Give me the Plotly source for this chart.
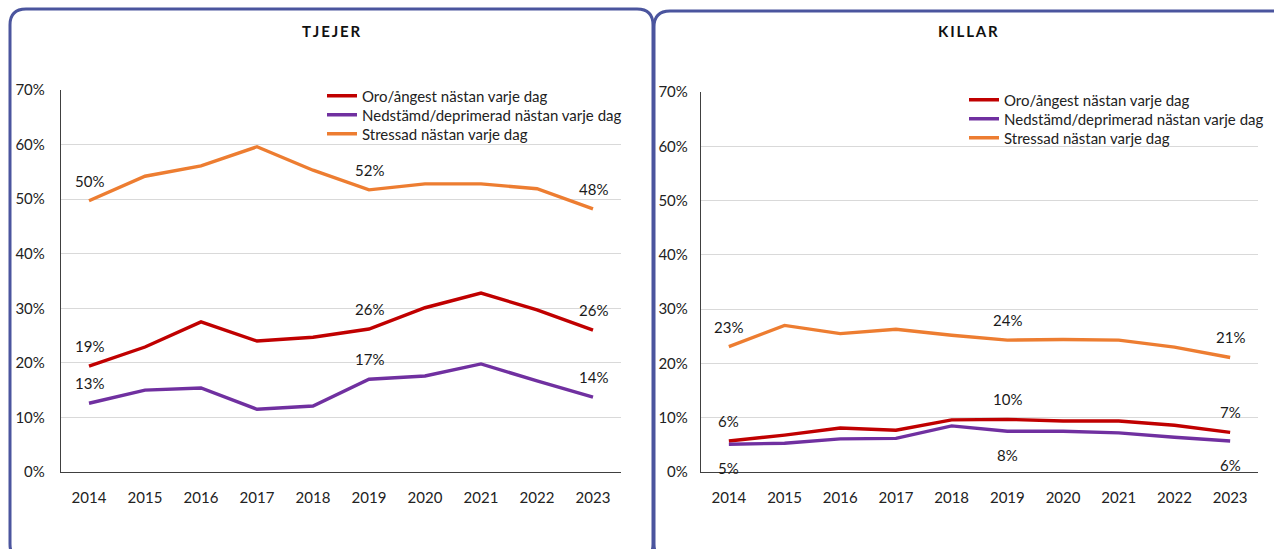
import plotly.graph_objects as go

years = ["2014", "2015", "2016", "2017", "2018", "2019", "2020", "2021", "2022", "2023"]

# TJEJER (girls)
g_oro = [19.4, 22.9, 27.5, 24.0, 24.7, 26.2, 30.1, 32.8, 29.7, 26.0]
g_ned = [12.6, 15.0, 15.4, 11.5, 12.1, 17.0, 17.6, 19.8, 16.7, 13.7]
g_str = [49.7, 54.2, 56.1, 59.6, 55.3, 51.7, 52.8, 52.8, 51.9, 48.2]

# KILLAR (boys)
b_oro = [5.7, 6.8, 8.1, 7.7, 9.6, 9.7, 9.4, 9.4, 8.6, 7.3]
b_ned = [5.1, 5.3, 6.1, 6.2, 8.5, 7.5, 7.5, 7.2, 6.4, 5.7]
b_str = [23.1, 27.0, 25.5, 26.3, 25.2, 24.3, 24.4, 24.3, 23.0, 21.1]

series_names = ["Oro/ångest nästan varje dag",
                "Nedstämd/deprimerad nästan varje dag",
                "Stressad nästan varje dag"]
colors = ["#C00000", "#7030A0", "#ED7D31"]
label_idx = [0, 5, 9]

FONT = "Lato, 'Open Sans', sans-serif"
W, H = 1274, 549


def px(x):
    return x / W


def py(y):
    return 1 - y / H


fig = go.Figure()

panels = [
    ("x", "y", ["legend", "legend2", "legend3"], [g_oro, g_ned, g_str], [1, 1, 1]),
    ("x2", "y2", ["legend4", "legend5", "legend6"], [b_oro, b_ned, b_str], [1, -1, 1]),
]

annotations = []
for xa, ya, legs, data, dirs in panels:
    for name, col, vals, d, leg in zip(series_names, colors, data, dirs, legs):
        yv = [v / 100 for v in vals]
        fig.add_trace(go.Scatter(
            x=years, y=yv, name=name, mode="lines",
            line=dict(color=col, width=3.4),
            xaxis=xa, yaxis=ya, legend=leg, hoverinfo="skip"))
        for i in label_idx:
            annotations.append(dict(
                x=i, y=yv[i], xref=xa, yref=ya,
                xanchor="center", yanchor="middle",
                text=f"{round(vals[i]):d}%", showarrow=False,
                yshift=20 if d > 0 else -24,
                font=dict(family=FONT, size=15, color="#1a1a1a")))

axis_common = dict(
    showgrid=False, showline=True, linecolor="#404040", linewidth=1.3,
    ticks="", tickfont=dict(family=FONT, size=15, color="#222"),
    automargin=False, fixedrange=True)
yaxis_common = dict(
    range=[0, 0.7], dtick=0.1, tickformat=".0%", showgrid=True,
    gridcolor="#D9D9D9", gridwidth=1, showline=True, linecolor="#404040",
    linewidth=1.3, zeroline=False, ticks="",
    tickfont=dict(family=FONT, size=15, color="#222"),
    automargin=False, fixedrange=True)

legend_rows = [("legend", 322, 96), ("legend2", 322, 115), ("legend3", 322, 134),
               ("legend4", 964, 100), ("legend5", 964, 119), ("legend6", 964, 138)]
legend_layout = {}
for key, lx, ly in legend_rows:
    legend_layout[key] = dict(
        x=px(lx), y=py(ly), xanchor="left", yanchor="middle",
        bgcolor="rgba(0,0,0,0)", borderwidth=0,
        font=dict(family=FONT, size=15, color="#222"), itemwidth=30)

fig.update_layout(
    width=W, height=H, margin=dict(l=0, r=0, t=0, b=0, autoexpand=False),
    paper_bgcolor="white", plot_bgcolor="white",
    font=dict(family=FONT, size=15, color="#222"),
    xaxis=dict(domain=[px(61), px(621)], anchor="y", range=[-0.5, 9.5],
               type="category", ticklabelstandoff=12, **axis_common),
    yaxis=dict(domain=[py(472), py(90)], anchor="x", ticklabelstandoff=12,
               **yaxis_common),
    xaxis2=dict(domain=[px(701), px(1258)], anchor="y2", range=[-0.5, 9.5],
                type="category", ticklabelstandoff=12, **axis_common),
    yaxis2=dict(domain=[py(472), py(92)], anchor="x2", ticklabelstandoff=9,
                **yaxis_common),
    showlegend=True,
    **legend_layout,
)

annotations.append(dict(x=px(331), y=py(31), xref="paper", yref="paper",
                        xanchor="center", yanchor="middle",
                        text="<b>T\u2009J\u2009E\u2009J\u2009E\u2009R</b>",
                        showarrow=False, font=dict(family=FONT, size=15, color="#111")))
annotations.append(dict(x=px(968), y=py(31), xref="paper", yref="paper",
                        xanchor="center", yanchor="middle",
                        text="<b>K\u2009I\u2009L\u2009L\u2009A\u2009R</b>",
                        showarrow=False, font=dict(family=FONT, size=15, color="#111")))
fig.update_layout(annotations=annotations)


def rounded_box(x0, y0, x1, y1, r):
    pts = (f"M {px(x0)},{py(y0 + r)} "
           f"Q {px(x0)},{py(y0)} {px(x0 + r)},{py(y0)} "
           f"L {px(x1 - r)},{py(y0)} "
           f"Q {px(x1)},{py(y0)} {px(x1)},{py(y0 + r)} "
           f"L {px(x1)},{py(y1 - r)} "
           f"Q {px(x1)},{py(y1)} {px(x1 - r)},{py(y1)} "
           f"L {px(x0 + r)},{py(y1)} "
           f"Q {px(x0)},{py(y1)} {px(x0)},{py(y1 - r)} Z")
    return dict(type="path", xref="paper", yref="paper", path=pts,
                line=dict(color="#4B559E", width=3), fillcolor="rgba(0,0,0,0)",
                layer="above")


fig.update_layout(shapes=[
    rounded_box(10, 9, 653, 560, 16),
    rounded_box(654, 11, 1300, 560, 16),
])

fig.write_html("out.html")
